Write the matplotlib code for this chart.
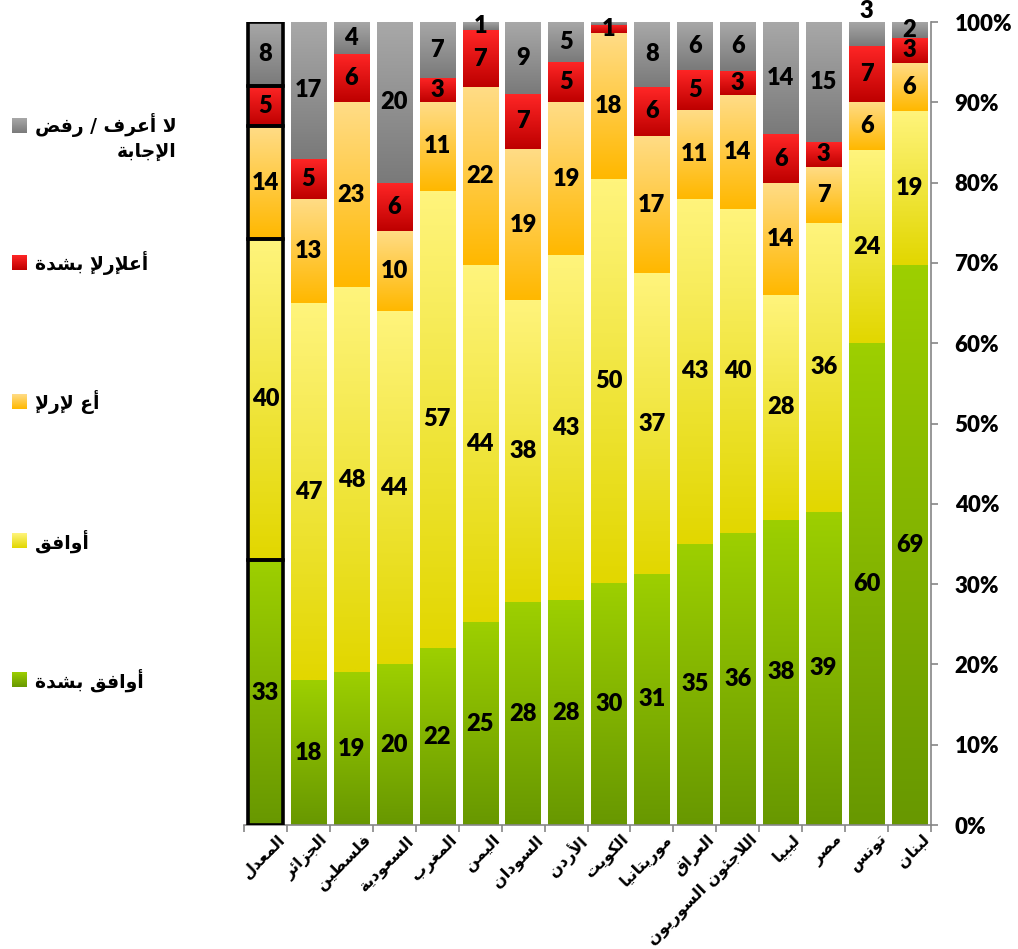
import numpy as np
import matplotlib.pyplot as plt
from matplotlib.colors import to_rgb
from matplotlib.transforms import ScaledTranslation

# data, bottom to top of each column
countries = ['المعدل', 'الجزائر', 'فلسطين', 'السعودية', 'المغرب', 'اليمن', 'السودان',
             'الأردن', 'الكويت', 'موريتانيا', 'العراق', 'اللاجئون السوريون', 'ليبيا',
             'مصر', 'تونس', 'لبنان']
strongly_agree = [33, 18, 19, 20, 22, 25, 28, 28, 30, 31, 35, 36, 38, 39, 60, 69]
agree = [40, 47, 48, 44, 57, 44, 38, 43, 50, 37, 43, 40, 28, 36, 24, 19]
disagree = [14, 13, 23, 10, 11, 22, 19, 19, 18, 17, 11, 14, 14, 7, 6, 6]
strongly_disagree = [5, 5, 6, 6, 3, 7, 7, 5, 1, 6, 5, 3, 6, 3, 7, 3]
dont_know = [8, 17, 4, 20, 7, 1, 9, 5, 0.4, 8, 6, 6, 14, 15, 3, 2]

series_names = ['أوافق بشدة', 'أوافق', 'أع لإرلإ', 'أعلإرلإ بشدة', 'لا أعرف / رفض\nالإجابة']
# (top colour, bottom colour) of each gradient
series_colors = [('#9dcf00', '#689800'), ('#fff47c', '#e2d700'), ('#ffdc86', '#ffb800'),
                 ('#ff2626', '#be0000'), ('#a8a8a8', '#7a7a7a')]

# --- tiny arabic shaper: matplotlib has no complex text layout ---
FORMS = {0x621: (0xFE80, 1), 0x622: (0xFE81, 2), 0x623: (0xFE83, 2), 0x624: (0xFE85, 2),
         0x625: (0xFE87, 2), 0x626: (0xFE89, 4), 0x627: (0xFE8D, 2), 0x628: (0xFE8F, 4),
         0x629: (0xFE93, 2), 0x62A: (0xFE95, 4), 0x62B: (0xFE99, 4), 0x62C: (0xFE9D, 4),
         0x62D: (0xFEA1, 4), 0x62E: (0xFEA5, 4), 0x62F: (0xFEA9, 2), 0x630: (0xFEAB, 2),
         0x631: (0xFEAD, 2), 0x632: (0xFEAF, 2), 0x633: (0xFEB1, 4), 0x634: (0xFEB5, 4),
         0x635: (0xFEB9, 4), 0x636: (0xFEBD, 4), 0x637: (0xFEC1, 4), 0x638: (0xFEC5, 4),
         0x639: (0xFEC9, 4), 0x63A: (0xFECD, 4), 0x641: (0xFED1, 4), 0x642: (0xFED5, 4),
         0x643: (0xFED9, 4), 0x644: (0xFEDD, 4), 0x645: (0xFEE1, 4), 0x646: (0xFEE5, 4),
         0x647: (0xFEE9, 4), 0x648: (0xFEED, 2), 0x649: (0xFEEF, 2), 0x64A: (0xFEF1, 4)}
LAM_ALEF = {0x622: 0xFEF5, 0x623: 0xFEF7, 0x625: 0xFEF9, 0x627: 0xFEFB}


def shape_line(line):
    tokens = []
    i = 0
    while i < len(line):
        c = ord(line[i])
        if c == 0x644 and i + 1 < len(line) and ord(line[i + 1]) in LAM_ALEF:
            tokens.append((LAM_ALEF[ord(line[i + 1])], 2))
            i += 2
            continue
        tokens.append(FORMS.get(c, (c, 0)))
        i += 1
    out = []
    for k, (base, n) in enumerate(tokens):
        if n < 2:
            out.append(chr(base))
            continue
        prev_j = k > 0 and tokens[k - 1][1] == 4
        next_j = n == 4 and k + 1 < len(tokens) and tokens[k + 1][1] >= 2
        if n == 2:
            out.append(chr(base + 1 if prev_j else base))
        elif prev_j and next_j:
            out.append(chr(base + 3))
        elif prev_j:
            out.append(chr(base + 1))
        elif next_j:
            out.append(chr(base + 2))
        else:
            out.append(chr(base))
    return ''.join(reversed(out))


def ar(text):
    return '\n'.join(shape_line(l) for l in text.split('\n'))


def gradient(top, bottom, n=64):
    t = np.linspace(0, 1, n)[:, None]
    g = (1 - t) * np.array(to_rgb(top)) + t * np.array(to_rgb(bottom))
    return g[:, None, :]


AR_FONT = 'DejaVu Sans'
NUM_FONT = 'Lato'
NUM_WEIGHT = 'heavy'

fig = plt.figure(figsize=(10.18, 9.49), dpi=100)
ax = fig.add_axes([244 / 1018, 1 - 825 / 949, (931 - 244) / 1018, (825 - 22) / 949])

values = np.array([strongly_agree, agree, disagree, strongly_disagree, dont_know], dtype=float)
shares = values / values.sum(axis=0) * 100   # 100% stacked
x = np.arange(len(countries))
bottom = np.zeros(len(countries))

for s in range(len(values)):
    top_c, bot_c = series_colors[s]
    bars = ax.bar(x, shares[s], width=0.82, bottom=bottom, color=bot_c, zorder=2)
    for i, patch in enumerate(bars):
        x0, y0 = patch.get_x(), patch.get_y()
        ax.imshow(gradient(top_c, bot_c), extent=(x0, x0 + patch.get_width(), y0, y0 + patch.get_height()),
                  aspect='auto', origin='upper', interpolation='bilinear', zorder=2.5)
        v = values[s, i]
        if v < 1:
            continue
        y = bottom[i] + shares[s, i] / 2
        if s == 4 and countries[i] == 'تونس':
            y = 101.35   # label pushed above the column
        ax.text(x[i], y, f'{v:.0f}', ha='center', va='center', fontsize=17,
                fontweight=NUM_WEIGHT, family=NUM_FONT, zorder=4)
    # average column is outlined
    ax.bar(x[0], shares[s, 0], width=0.82, bottom=bottom[0], fill=False,
           edgecolor='black', linewidth=2.6, zorder=3)
    bottom += shares[s]

ax.set_xlim(-0.5, len(countries) - 0.5)
ax.set_ylim(0, 100)
for side in ['left', 'top']:
    ax.spines[side].set_visible(False)
for side in ['right', 'bottom']:
    ax.spines[side].set_color('#868686')
    ax.spines[side].set_linewidth(1.2)

ax.yaxis.tick_right()
ax.set_yticks(range(0, 101, 10))
ax.set_yticklabels([f'{t}%' for t in range(0, 101, 10)], fontsize=16, fontweight=NUM_WEIGHT, family=NUM_FONT)
ax.tick_params(axis='y', direction='out', length=5, width=1.2, color='#868686', pad=12)

ax.set_xticks(np.arange(-0.5, len(countries), 1))
ax.set_xticklabels([])
ax.set_xticks(x, [ar(c) for c in countries], minor=True)
ax.tick_params(axis='x', which='major', direction='out', length=5, width=1.2, color='#868686')
ax.tick_params(axis='x', which='minor', length=0, pad=5)
for lab in ax.get_xticklabels(minor=True):
    lab.set_rotation(45)
    lab.set_ha('right')
    lab.set_va('top')
    lab.set_rotation_mode('anchor')
    lab.set_fontsize(11.5)
    lab.set_fontweight('bold')
    lab.set_family(AR_FONT)
    lab.set_transform(lab.get_transform() + ScaledTranslation(0.12, 0, fig.dpi_scale_trans))

# legend drawn by hand, Excel style on the left
lax = fig.add_axes([0, 0, 240 / 1018, 1])
lax.axis('off')
legend_y = [680, 541, 402, 263, 125]
for s in range(len(values)):
    y = legend_y[s]
    lax.imshow(gradient(*series_colors[s]), extent=(12, 27, y + 7.5, y - 7.5),
               aspect='auto', origin='upper', interpolation='bilinear')
    two_lines = '\n' in series_names[s]
    lax.text(35, y - 12 if two_lines else y, ar(series_names[s]),
             ha='left', va='top' if two_lines else 'center',
             multialignment='right', fontsize=13.5, fontweight='bold', family=AR_FONT, linespacing=1.35)
lax.set_xlim(0, 240)
lax.set_ylim(949, 0)

fig.savefig('out.png', dpi=100)
